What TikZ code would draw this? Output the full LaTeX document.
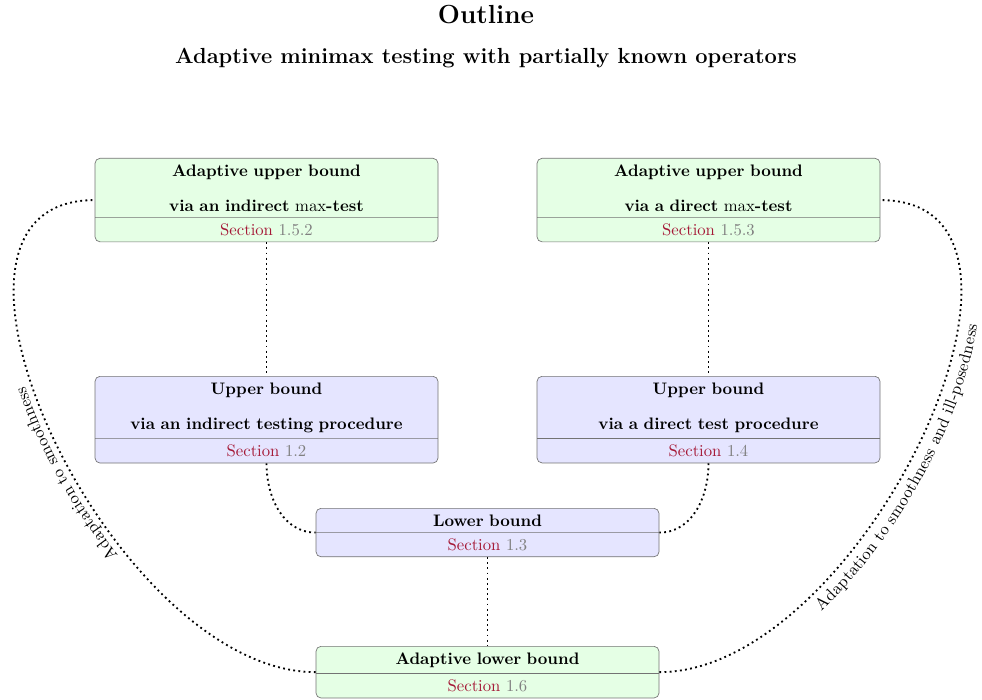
\documentclass[tikz,border=0pt]{standalone}
\usetikzlibrary{shapes.multipart}
\usetikzlibrary{decorations.text}
\usepackage{xcolor}
\usepackage{amsmath}
\definecolor{secred}{RGB}{165,25,55}
\newcommand{\secnum}[1]{{\color{secred}Section} {\color{gray}#1}}

\begin{document}
\begin{tikzpicture}[x=0.6pt,y=0.6pt,
  partbox/.style={rectangle split, rectangle split parts=2, draw=black!55, rounded corners=3pt,
    text width=199pt, inner xsep=3.4pt, inner ysep=3.5pt, align=center, anchor=north},
  adaptbox/.style={partbox, fill=green!10},
  boundbox/.style={partbox, fill=blue!10},
  link/.style={black, line width=1.1pt, dotted}]
\useasboundingbox (0,0) rectangle (982,699);
% titles
\node[anchor=base] (title) at (486,675) {\fontsize{15.7}{19}\selectfont\bfseries Outline};
\node[anchor=base] (subtitle) at (486,635) {\fontsize{13.1}{16}\selectfont\bfseries Adaptive minimax testing with partially known operators};
% boxes
\node[adaptbox] (aubind) at (266.5,541) {\bfseries Adaptive upper bound\\[9pt] via an indirect $\max$-test \nodepart{two} \secnum{1.5.2}};
\node[adaptbox] (aubdir) at (708.5,541) {\bfseries Adaptive upper bound\\[9pt] via a direct $\max$-test \nodepart{two} \secnum{1.5.3}};
\node[boundbox] (ubind) at (266.5,323) {\bfseries Upper bound\\[9pt] via an indirect testing procedure \nodepart{two} \secnum{1.2}};
\node[boundbox] (ubdir) at (708.5,323) {\bfseries Upper bound\\[9pt] via a direct test procedure \nodepart{two} \secnum{1.4}};
\node[boundbox] (lb) at (487.5,191) {\bfseries Lower bound \nodepart{two} \secnum{1.3}};
\node[adaptbox] (alb) at (487.5,53) {\bfseries Adaptive lower bound \nodepart{two} \secnum{1.6}};
% links
\draw[link] (aubind.south) -- (ubind.north);
\draw[link] (aubdir.south) -- (ubdir.north);
\draw[link] (ubind.south) to[out=-90,in=180] (lb.west);
\draw[link] (ubdir.south) to[out=-90,in=0] (lb.east);
\draw[link] (lb.south) -- (alb.north);
\draw[link, postaction={decorate, decoration={text along path, text align=center, raise=4pt,
  text={Adaptation to smoothness}}}] (alb.west) to[out=180,in=180] (aubind.west);
\draw[link, postaction={decorate, decoration={text along path, text align=center, raise=-11pt,
  text={Adaptation to smoothness and ill-posedness}}}] (alb.east) to[out=0,in=0] (aubdir.east);
\end{tikzpicture}
\end{document}
